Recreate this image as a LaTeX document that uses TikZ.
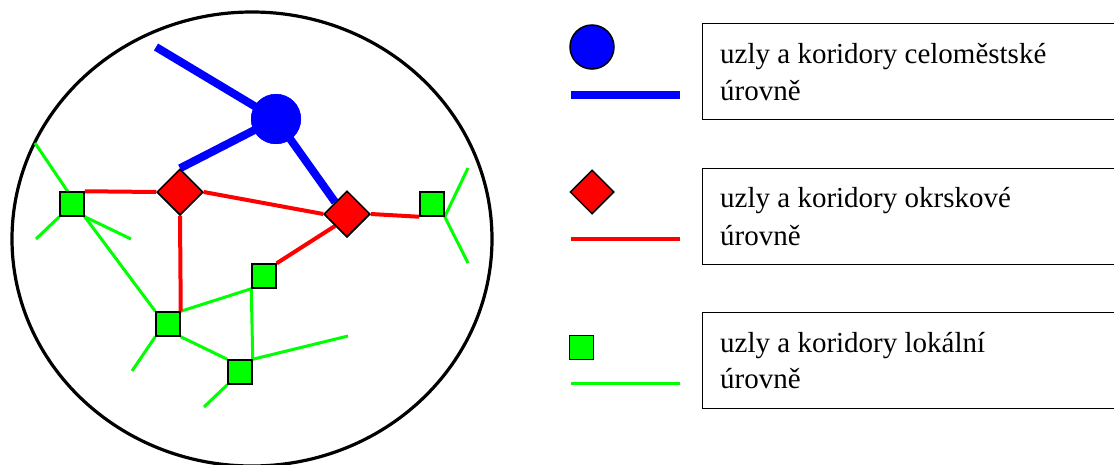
\documentclass[tikz,border=0pt]{standalone}
\usepackage{fontspec}
\setmainfont{Liberation Serif}
\usetikzlibrary{shapes.geometric}
\begin{document}
\begin{tikzpicture}[x=1pt,y=-1pt,
  bluenode/.style={circle, fill=blue, inner sep=0pt, minimum size=50pt},
  rednode/.style={diamond, draw=black, line width=1.5pt, fill=red, inner sep=0pt, minimum size=46pt},
  greennode/.style={rectangle, draw=black, line width=1.5pt, fill=green, inner sep=0pt, minimum size=24pt},
  bluecor/.style={draw=blue, line width=8pt},
  redcor/.style={draw=red, line width=4pt},
  greencor/.style={draw=green, line width=3pt},
  legbox/.style={draw=black, line width=1.2pt, rectangle, inner sep=0pt, anchor=north west, minimum width=450pt, minimum height=96pt},
  legtext/.style={anchor=base west, inner sep=0pt, font=\fontsize{29}{35}\selectfont}]
\useasboundingbox (0,0) rectangle (1114,464);
\fill[white] (0,0) rectangle (1114,464);
% outer ellipse
\draw[line width=3.2pt] (252,239) ellipse [x radius=240, y radius=227];
% node positions
\coordinate (pbc) at (276,119);
\coordinate (pd1) at (180,192);
\coordinate (pd2) at (347,214);
% free ends
\coordinate (cb0) at (156,47);
\coordinate (e1) at (35,143);
\coordinate (e2) at (36,239);
\coordinate (e3) at (131,239);
\coordinate (e4) at (468,168);
\coordinate (e5) at (468,263);
\coordinate (e6) at (132,371);
\coordinate (e7) at (348,336);
\coordinate (e8) at (204,407);
% nodes (placed first, redrawn on top later)
\path node[bluenode] (bc) at (pbc) {}
      node[rednode] (d1) at (pd1) {}
      node[rednode] (d2) at (pd2) {}
      node[greennode] (g1) at (72,204) {}
      node[greennode] (g2) at (432,204) {}
      node[greennode] (g3) at (264,276) {}
      node[greennode] (g4) at (168,324) {}
      node[greennode] (g5) at (240,372) {};
% green corridors
\draw[greencor] (e1) -- (g1.south east);
\draw[greencor] (g1.south west) -- (e2);
\draw[greencor] (g1.south east) -- (e3);
\draw[greencor] (g1.south east) -- (g4.north west);
\draw[greencor] (g2.south east) -- (e4);
\draw[greencor] (g2.south east) -- (e5);
\draw[greencor] (g3.south west) -- (g4.north east);
\draw[greencor] (g3.south west) -- (g5.north east);
\draw[greencor] (g4.south west) -- (e6);
\draw[greencor] (g4.south east) -- (g5.north west);
\draw[greencor] (g5.north east) -- (e7);
\draw[greencor] (g5.south west) -- (e8);
% red corridors
\draw[redcor] (g1.north east) -- (d1.west);
\draw[redcor] (d1.east) -- (d2.west);
\draw[redcor] (d1.south) -- (g4.north east);
\draw[redcor] (d2.east) -- (g2.south west);
\draw[redcor] (d2.south west) -- (g3.north east);
% blue corridors
\draw[bluecor] (cb0) -- (bc.center);
\draw[bluecor] (bc.center) -- (d1.north);
\draw[bluecor] (bc.center) -- (d2.north west);
% nodes on top
\path node[bluenode] at (pbc) {}
      node[rednode] at (pd1) {}
      node[rednode] at (pd2) {}
      node[greennode] at (72,204) {}
      node[greennode] at (432,204) {}
      node[greennode] at (264,276) {}
      node[greennode] at (168,324) {}
      node[greennode] at (240,372) {};
% legend
\node[circle, fill=blue, draw=black, line width=1.5pt, inner sep=0pt, minimum size=44pt] (lc) at (592,47) {};
\coordinate (lb0) at (571,95); \coordinate (lb1) at (680,95);
\draw[bluecor] (lb0) -- (lb1);
\node[rednode, minimum size=44pt] (ld) at (592,192) {};
\coordinate (lr0) at (571,239); \coordinate (lr1) at (680,239);
\draw[redcor] (lr0) -- (lr1);
\node[greennode] (ls) at (581.5,347.5) {};
\coordinate (lg0) at (571,383); \coordinate (lg1) at (680,383);
\draw[greencor] (lg0) -- (lg1);
\node[legbox] (box1) at (702,23) {};
\node[legbox] (box2) at (702,168) {};
\node[legbox] (box3) at (702,312) {};
\node[legtext] (t1a) at (720,63) {uzly a koridory celoměstské};
\node[legtext] (t1b) at (720,100) {úrovně};
\node[legtext] (t2a) at (720,207) {uzly a koridory okrskové};
\node[legtext] (t2b) at (720,245) {úrovně};
\node[legtext] (t3a) at (720,352) {uzly a koridory lokální};
\node[legtext] (t3b) at (720,388) {úrovně};
\end{tikzpicture}
\end{document}
